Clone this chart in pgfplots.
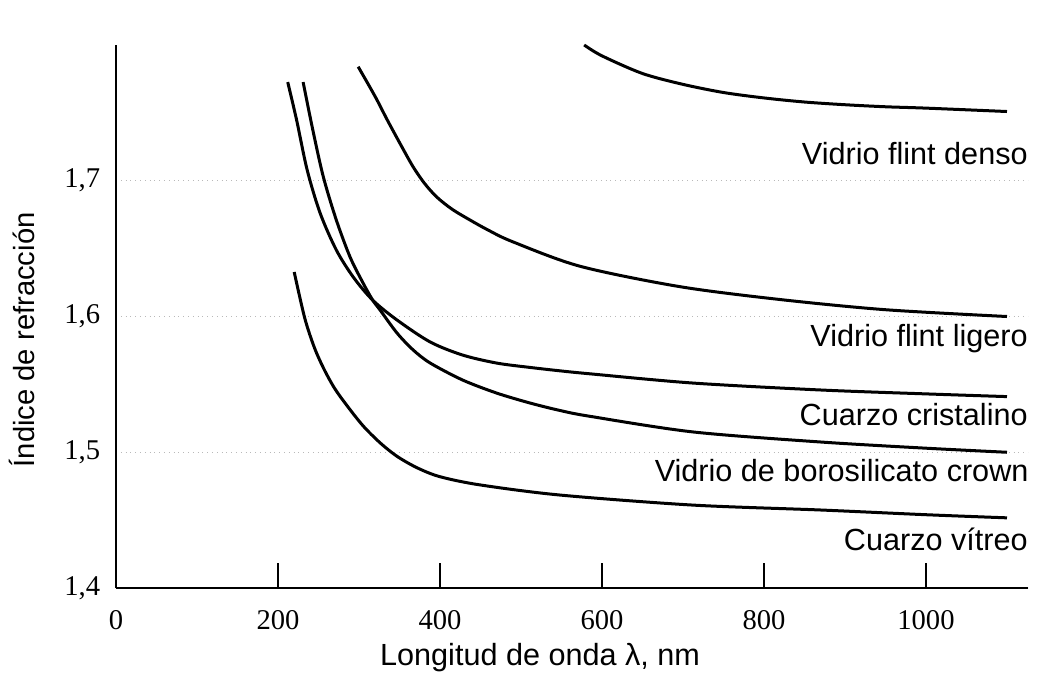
\documentclass[border=0pt]{standalone}
\usepackage{pgfplots}
\pgfplotsset{compat=1.18}
\usepackage{fontspec}
\setmainfont{Liberation Serif}
\newfontfamily\sansf{Liberation Sans}
\begin{document}
\begin{tikzpicture}
\begin{axis}[
  scale only axis, width=456pt, height=271.5pt,
  xmin=0, xmax=1126, ymin=1.4, ymax=1.8,
  axis x line=bottom, axis y line=left,
  axis line style={-, line width=1pt},
  xtick={0,200,400,600,800,1000}, ytick={1.4,1.5,1.6,1.7},
  tick align=inside, major tick length=12.5pt,
  xtick style={line width=0.8pt, black},
  ytick style={draw=none},
  ymajorgrids, grid style={dotted, gray!55, line width=0.7pt},
  tick label style={font=\fontsize{14.3}{15}\selectfont},
  /pgf/number format/assume math mode=true,
  yticklabel style={/pgf/number format/.cd, fixed, fixed zerofill, precision=1, use comma, /tikz/.cd, xshift=-4.4pt},
  xticklabel style={/pgf/number format/1000 sep={}, yshift=-7.6pt},
  xlabel={Longitud de onda λ, nm},
  ylabel={Índice de refracción},
  xlabel style={at={(rel axis cs:0.465,-0.142)}, anchor=base, font=\sansf\fontsize{15.3}{16}\selectfont},
  ylabel style={at={(rel axis cs:-0.089,0.457)}, anchor=base, font=\sansf\fontsize{14.6}{16}\selectfont},
  clip=false,
]
\path (axis cs:-143.2,1.33665) rectangle (axis cs:1145.7,1.83315);
% Vidrio flint denso
\addplot[black, line width=1.5pt, smooth] coordinates {
(578,1.800) (600,1.792) (650,1.779) (700,1.771) (750,1.765) (800,1.761) (850,1.758) (900,1.756) (950,1.7545) (1000,1.7535) (1100,1.751)};
% Vidrio flint ligero
\addplot[black, line width=1.5pt, smooth] coordinates {
(299,1.784) (320,1.762) (335,1.7447) (352,1.726) (367,1.7101) (381,1.698) (396,1.688) (415,1.679) (437,1.6711) (460,1.6635) (490,1.655) (573,1.637) (696,1.622) (820,1.6125) (950,1.605) (1100,1.600)};
% Cuarzo cristalino
\addplot[black, line width=1.5pt, smooth] coordinates {
(212,1.7727) (223,1.7447) (236,1.708) (252,1.6762) (272,1.649) (293,1.629) (317,1.612) (347,1.5974) (388,1.5812) (428,1.5716) (470,1.5657) (511,1.5625) (548,1.5600) (585,1.5578) (712,1.551) (869,1.5459) (1000,1.543) (1100,1.541)};
% Vidrio de borosilicato crown
\addplot[black, line width=1.5pt, smooth] coordinates {
(231,1.7727) (243,1.7374) (256,1.7028) (272,1.6711) (289,1.6438) (305,1.6247) (317,1.612) (326,1.6048) (347,1.5878) (367,1.5753) (388,1.5657) (428,1.5532) (470,1.5436) (511,1.5363) (548,1.5308) (585,1.5265) (712,1.515) (869,1.5076) (1000,1.503) (1100,1.500)};
% Cuarzo vitreo
\addplot[black, line width=1.5pt, smooth] coordinates {
(220,1.6328) (233,1.5989) (245,1.577) (257,1.561) (270,1.547) (285,1.5345) (305,1.5195) (326,1.507) (347,1.497) (372,1.4885) (400,1.482) (449,1.476) (548,1.4685) (712,1.4611) (869,1.4575) (1000,1.454) (1100,1.4517)};
\begin{scope}[every node/.style={anchor=base east, inner sep=0pt, font=\sansf\fontsize{15.3}{16}\selectfont}]
\node at (axis cs:1126,1.7122) {Vidrio flint denso};
\node at (axis cs:1126,1.5779) {Vidrio flint ligero};
\node at (axis cs:1126,1.5196) {Cuarzo cristalino};
\node at (axis cs:1127,1.4782) {Vidrio de borosilicato crown};
\node at (axis cs:1126,1.4273) {Cuarzo vítreo};
\end{scope}
\end{axis}
\end{tikzpicture}
\end{document}
